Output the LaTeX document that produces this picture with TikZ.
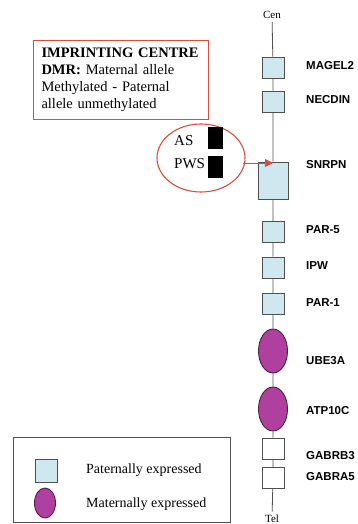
\documentclass[tikz,border=0pt]{standalone}
\usepackage{fontspec}
\setmainfont{Liberation Serif}
\newfontfamily\genefont{Liberation Sans}
\usetikzlibrary{shapes.geometric,arrows.meta}

\definecolor{patblue}{HTML}{CFE8F0}
\definecolor{matpink}{HTML}{B040A0}
\definecolor{matline}{HTML}{4A2040}
\definecolor{boxgray}{HTML}{505050}
\definecolor{icred}{HTML}{E04A3A}

\tikzset{
  paternal/.style={draw=boxgray, fill=patblue, line width=0.9pt, minimum width=22pt, minimum height=21pt, inner sep=0pt},
  maternal/.style={ellipse, draw=matline, fill=matpink, line width=0.9pt, minimum width=29pt, minimum height=44pt, inner sep=0pt},
  silent/.style={draw=boxgray, fill=white, line width=0.9pt, minimum width=22pt, minimum height=21pt, inner sep=0pt},
  genename/.style={anchor=west, inner sep=0pt, font=\genefont\bfseries\fontsize{11.5}{14}\selectfont},
  chrom/.style={draw=boxgray, line width=0.8pt},
  marker/.style={fill=black, minimum width=15pt, minimum height=22pt, inner sep=0pt},
  redline/.style={draw, color=icred, line width=1.1pt}
}

\begin{document}
\begin{tikzpicture}[x=1pt,y=-1pt]
        \useasboundingbox (0,0) rectangle (357,524);

        % Extremos del cromosoma
        \node[font=\fontsize{11}{13}\selectfont] (cen) at (272,15) {Cen};
        \node[font=\fontsize{11}{13}\selectfont] (tel) at (272,519) {Tel};

        % Genes
        \node[paternal] (magel) at (273,67.5) {};
        \node[paternal] (necdin) at (273,101.5) {};
        \node[paternal, minimum width=30pt, minimum height=37pt] (snrpn) at (273,180.5) {};
        \node[paternal] (parfive) at (273,232) {};
        \node[paternal] (ipw) at (273,267.5) {};
        \node[paternal] (parone) at (273,304) {};
        \node[maternal] (ube) at (273,351) {};
        \node[maternal] (atp) at (273,409) {};
        \node[silent] (gabrb) at (273,448.5) {};
        \node[silent] (gabra) at (273,478) {};

        % Cromosoma
        \draw[chrom] (cen) -- (magel) -- (necdin) -- (snrpn) -- (parfive) -- (ipw)
          -- (parone) -- (ube) -- (atp) -- (gabrb) -- (gabra) -- (tel);

        % Nombres
        \node[genename] (lmagel) at (306,66) {MAGEL2};
        \node[genename] (lnecdin) at (306,100) {NECDIN};
        \node[genename] (lsnrpn) at (306,165) {SNRPN};
        \node[genename] (lparfive) at (306,230) {PAR-5};
        \node[genename] (lipw) at (306,266) {IPW};
        \node[genename] (lparone) at (306,303) {PAR-1};
        \node[genename] (lube) at (306,361) {UBE3A};
        \node[genename] (latp) at (306,411) {ATP10C};
        \node[genename] (lgabrb) at (306,456) {GABRB3};
        \node[genename] (lgabra) at (306,477) {GABRA5};

        % Centro de impronta
        \node[redline, text=black, minimum width=175pt, minimum height=77pt,
          text width=159pt, inner sep=8pt, align=left,
          font=\fontsize{14.5}{17}\selectfont] (imprint) at (121,80)
          {\textbf{IMPRINTING CENTRE}\\ \textbf{DMR:} Maternal allele\\ Methylated - Paternal\\ allele unmethylated};

        \node[redline, ellipse, minimum width=88pt, minimum height=68pt] (dmr) at (201,158) {};
        \node[anchor=west, font=\fontsize{15}{17}\selectfont, inner sep=0pt] (as) at (174,141) {AS};
        \node[anchor=west, font=\fontsize{15}{17}\selectfont, inner sep=0pt] (pws) at (174,163.5) {PWS};
        \node[marker] (asmark) at (215.5,138) {};
        \node[marker] (pwsmark) at (215.5,166.5) {};

        % Flecha
        \coordinate (arrstart) at (243,163);
        \draw[icred, line width=1pt, -{Triangle[length=8pt,width=8pt]}] (arrstart) -- (arrstart -| snrpn.north);

        % Leyenda
        \draw[boxgray, line width=0.8pt] (13,437) rectangle (230,522);
        \node[paternal, minimum height=23pt] (keypat) at (46,470.5) {};
        \node[maternal, minimum width=21pt, minimum height=30pt] (keymat) at (45,503) {};
        \node[anchor=west, inner sep=0pt, font=\fontsize{14}{16}\selectfont] (tpat) at (86,470) {Paternally expressed};
        \node[anchor=west, inner sep=0pt, font=\fontsize{14}{16}\selectfont] (tmat) at (86,504) {Maternally expressed};
    \end{tikzpicture}
\end{document}
